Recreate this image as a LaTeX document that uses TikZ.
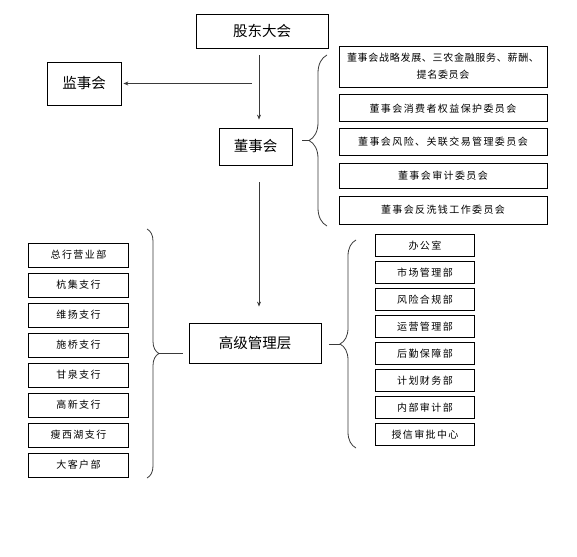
\documentclass[tikz,border=0pt]{standalone}
\usepackage{fontspec}
\usepackage{xcolor}
\usepackage{tikz}
\usetikzlibrary{positioning,arrows.meta,calc,decorations.pathreplacing}
\newfontfamily\cjk{Noto Sans CJK SC}
\newfontfamily\cjksmall[LetterSpace=14]{Noto Sans CJK SC}
\newfontfamily\cjktight[LetterSpace=7]{Noto Sans CJK SC}
\definecolor{linegray}{HTML}{3A3A3A}

\begin{document}
\begin{tikzpicture}[
    x=1pt, y=-1pt,
    mainbox/.style={draw=black, line width=0.8pt, align=center, inner sep=0pt, font=\cjk\fontsize{14.5}{17}\selectfont},
    unit/.style={draw=black, line width=0.8pt, align=center, inner sep=0pt, minimum width=100pt, minimum height=24pt, font=\cjksmall\fontsize{10}{14}\selectfont},
    dept/.style={unit, minimum width=99pt, minimum height=22.5pt},
    committee/.style={unit, minimum width=208pt, minimum height=27pt},
    arr/.style={-{Stealth[length=5pt,width=4pt]}, line width=0.8pt, draw=linegray},
    conn/.style={line width=0.8pt, draw=linegray},
    bracket/.style={decorate, decoration={brace, amplitude=#1}, line width=0.8pt, draw=linegray}
]
    \useasboundingbox (0,0) rectangle (577,556);

    % Governance
    \node[mainbox, minimum width=132pt, minimum height=34pt] (gd) at (262,31) {股东大会};
    \node[mainbox, minimum width=74pt, minimum height=43pt] (jsh) at (84,83.5) {监事会};
    \node[mainbox, minimum width=73pt, minimum height=37pt] (dsh) at (255.5,146.5) {董事会};
    \node[mainbox, minimum width=132pt, minimum height=40pt] (gj) at (255,343) {高级管理层};
    \coordinate (trunk) at (259,0);

    % Committees
    \node[committee, minimum height=41pt, font=\cjktight\fontsize{10}{17}\selectfont] (wy1) at (443,66.5) {董事会战略发展、三农金融服务、薪酬、\\提名委员会};
    \node[committee, below=7pt of wy1] (wy2) {董事会消费者权益保护委员会};
    \node[committee, below=6pt of wy2] (wy3) {董事会风险、关联交易管理委员会};
    \node[committee, below=7pt of wy3, minimum height=25pt] (wy4) {董事会审计委员会};
    \node[committee, below=7pt of wy4, minimum height=28pt] (wy5) {董事会反洗钱工作委员会};

    % Branches
    \node[unit] (zh) at (78.5,255) {总行营业部};
    \node[unit, below=5.2pt of zh] (hj) {杭集支行};
    \node[unit, below=5.2pt of hj] (wyang) {维扬支行};
    \node[unit, below=5.2pt of wyang] (sq) {施桥支行};
    \node[unit, below=5.2pt of sq] (gq) {甘泉支行};
    \node[unit, below=5.2pt of gq] (gx) {高新支行};
    \node[unit, below=5.2pt of gx] (sxh) {瘦西湖支行};
    \node[unit, below=5.2pt of sxh] (dkh) {大客户部};

    % Departments
    \node[dept] (bgs) at (425,245.5) {办公室};
    \node[dept, below=3.7pt of bgs] (scgl) {市场管理部};
    \node[dept, below=3.7pt of scgl] (fxhg) {风险合规部};
    \node[dept, below=3.7pt of fxhg] (yygl) {运营管理部};
    \node[dept, below=3.7pt of yygl] (hqbz) {后勤保障部};
    \node[dept, below=3.7pt of hqbz] (jhcw) {计划财务部};
    \node[dept, below=3.7pt of jhcw] (nbsj) {内部审计部};
    \node[dept, below=3.7pt of nbsj] (sxsp) {授信审批中心};

    % Arrows
    \draw[arr, shorten <=7pt, shorten >=8pt] (trunk |- gd.south) -- (trunk |- dsh.north);
    \draw[arr, shorten <=7pt, shorten >=2pt] (trunk |- jsh.east) -- (jsh.east);
    \draw[arr, shorten <=17pt, shorten >=16pt] (trunk |- dsh.south) -- (trunk |- gj.north);

    % Braces
    \coordinate (wyTop) at (327,55);
    \coordinate (wyBot) at (327,226);
    \coordinate (wyTip) at (309,140.5);
    \draw[bracket=18pt] (wyBot) -- (wyTop);
    \draw[conn, shorten <=10pt] (dsh.east |- wyTip) -- (wyTip);

    \coordinate (zhTop) at (147,229);
    \coordinate (zhBot) at (147,478);
    \coordinate (zhTip) at (159,353.5);
    \draw[bracket=12pt] (zhTop) -- (zhBot);
    \draw[conn, shorten >=6pt] (zhTip) -- (gj.west |- zhTip);

    \coordinate (bmTop) at (356,240);
    \coordinate (bmBot) at (356,448);
    \coordinate (bmTip) at (340,344);
    \draw[bracket=16pt] (bmBot) -- (bmTop);
    \draw[conn, shorten <=8pt] (gj.east |- bmTip) -- (bmTip);
\end{tikzpicture}
\end{document}
